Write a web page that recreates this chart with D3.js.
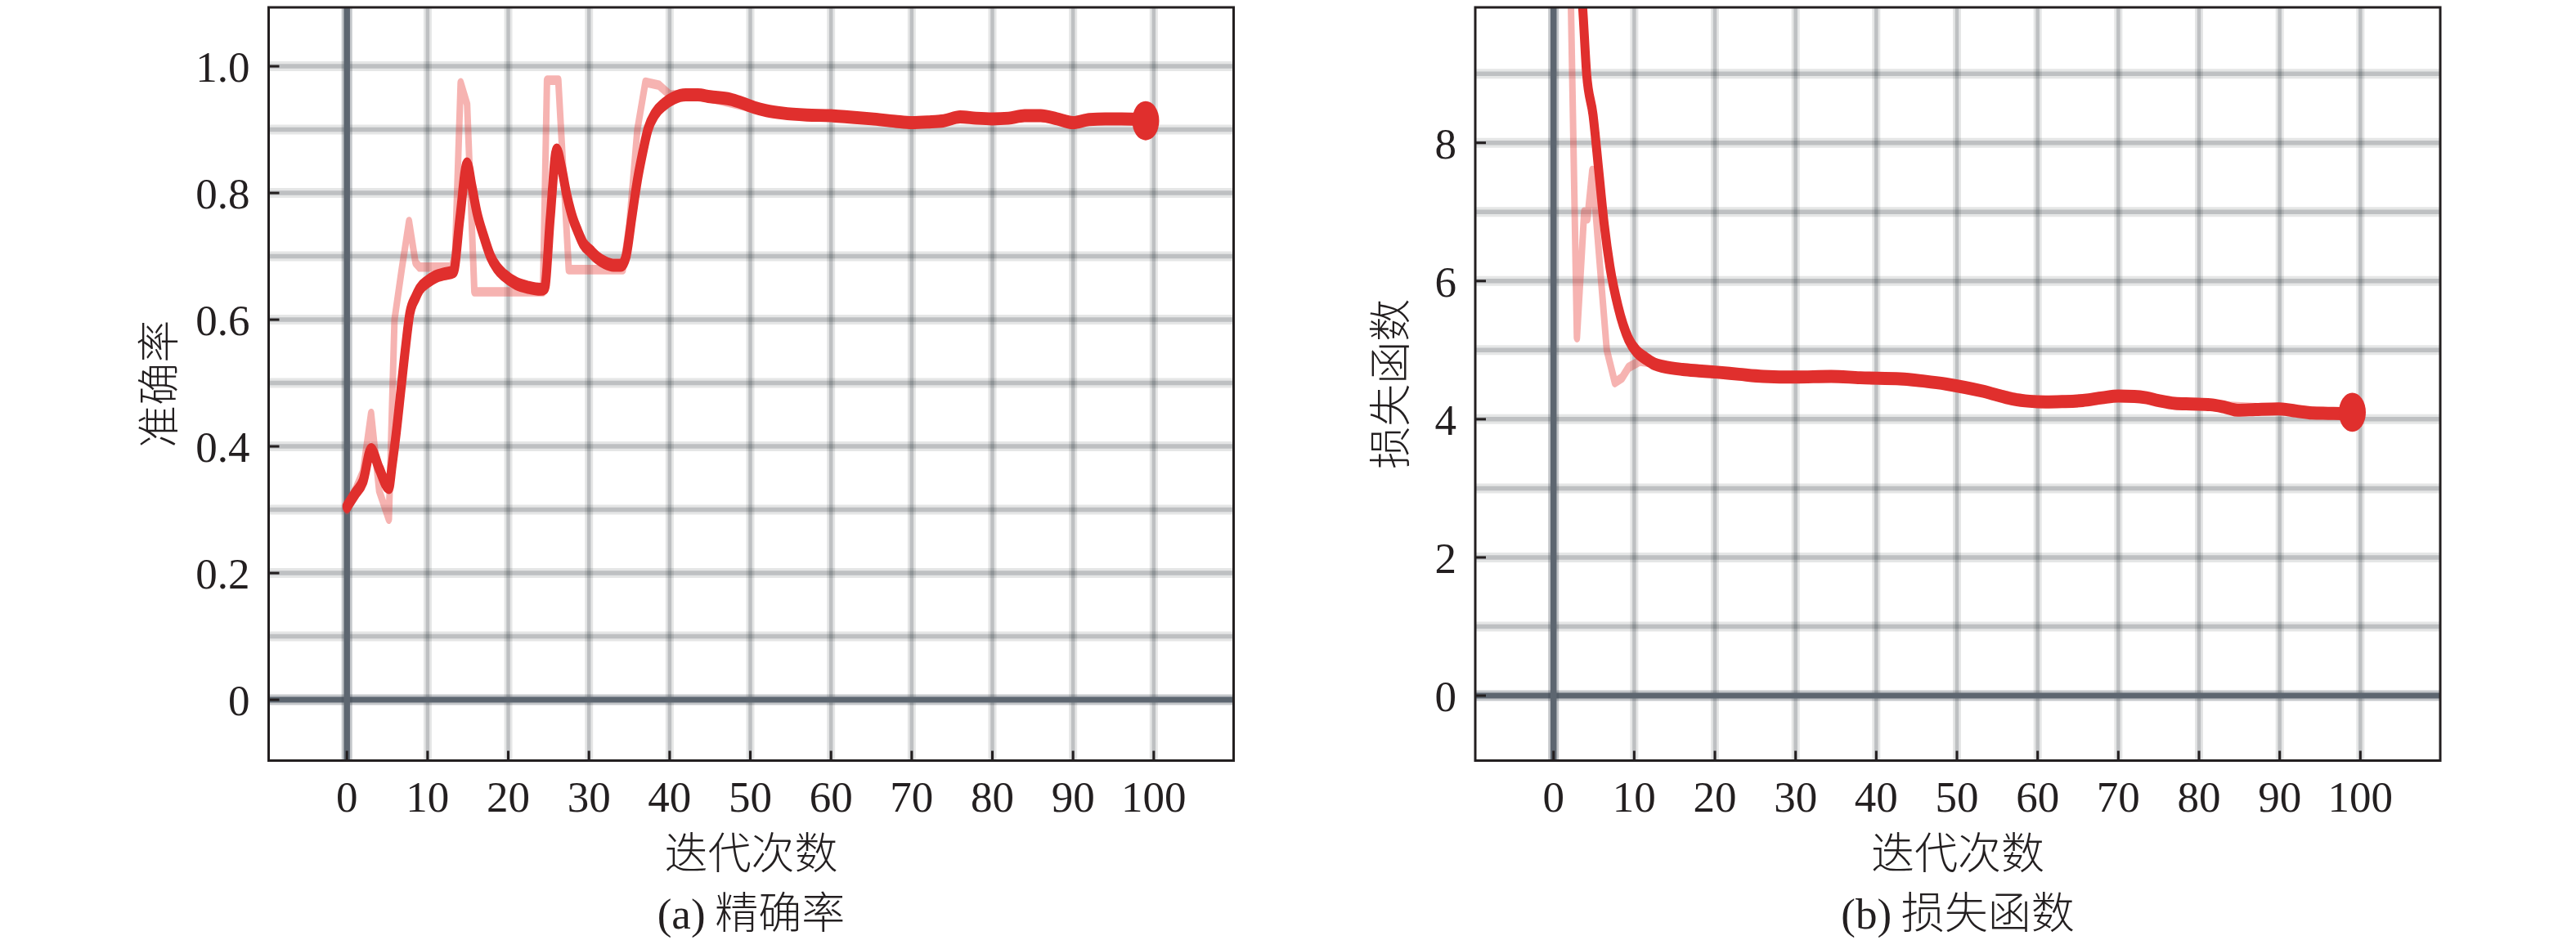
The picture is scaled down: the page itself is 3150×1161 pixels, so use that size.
<!DOCTYPE html>
<html>
<head>
<meta charset="utf-8">
<script src="https://cdn.jsdelivr.net/npm/d3@7"></script>
<style>
  html, body { margin: 0; padding: 0; background: #fff; }
  svg { display: block; }
</style>
</head>
<body>
<svg id="chart" width="3150" height="1161"></svg>
<script>
// ---------------- data ----------------
const iterTicks = [0, 10, 20, 30, 40, 50, 60, 70, 80, 90, 100];
const accTicks = [0, 0.2, 0.4, 0.6, 0.8, 1.0];
const accGridVals = [0.1, 0.2, 0.3, 0.4, 0.5, 0.6, 0.7, 0.8, 0.9, 1.0];
const lossTicks = [0, 2, 4, 6, 8];
const lossGridVals = [1, 2, 3, 4, 5, 6, 7, 8, 9];

// accuracy – smoothed curve
const accSmoothIter = [0, 1, 2, 3, 4, 5.2, 5.6, 6.1, 6.7, 7.3, 7.8, 8.5, 9, 10, 11, 12, 13.2,
  14, 14.9, 15.5, 16.1, 17, 17.8, 18.6, 19.5, 21, 22.5, 24, 24.5, 25.2, 26, 26.6, 27.2, 28, 28.6,
  29.3, 30.2, 31, 32, 33, 34, 34.6, 35.3, 36, 36.6, 37.3, 38.2, 39.3, 40.5, 42, 43.5, 45, 47.5,
  49, 50.5, 52, 54, 57, 60, 62, 65, 68, 70, 72, 74, 76, 78, 80, 82, 84, 86, 88, 90, 92, 94, 96, 99];
const accSmooth = [0.305, 0.325, 0.345, 0.395, 0.365, 0.335, 0.37, 0.42, 0.49, 0.56, 0.61, 0.635, 0.648, 0.66, 0.668, 0.672, 0.676,
  0.76, 0.846, 0.81, 0.77, 0.73, 0.70, 0.682, 0.67, 0.657, 0.651, 0.648, 0.65, 0.76, 0.868, 0.84, 0.80, 0.76, 0.74,
  0.72, 0.708, 0.698, 0.69, 0.686, 0.686, 0.70, 0.76, 0.82, 0.86, 0.90, 0.925, 0.94, 0.95, 0.955, 0.955, 0.952, 0.948,
  0.942, 0.935, 0.93, 0.926, 0.923, 0.922, 0.92, 0.917, 0.913, 0.911, 0.912, 0.914, 0.92, 0.918, 0.917, 0.918, 0.922, 0.922, 0.917, 0.911, 0.916, 0.917, 0.917, 0.916];

// accuracy – raw curve
const accRawIter = [0, 1, 2, 3, 4, 5.2, 5.9, 6.8, 7.7, 8.5, 9, 13, 13.4, 14.1, 14.9, 15.8, 24.3, 24.8, 26.2, 27.5,
  34.2, 35, 36, 37, 38.7, 40, 42, 45, 50, 55, 60, 65, 70, 75, 80, 85, 90, 95, 99];
const accRaw = [0.30, 0.33, 0.36, 0.452, 0.33, 0.285, 0.60, 0.68, 0.755, 0.69, 0.683, 0.683, 0.70, 0.974, 0.94, 0.644, 0.644, 0.978, 0.978, 0.679,
  0.679, 0.75, 0.90, 0.975, 0.97, 0.955, 0.955, 0.95, 0.935, 0.924, 0.922, 0.917, 0.911, 0.918, 0.917, 0.922, 0.911, 0.917, 0.916];
const accLast = { iter: 99, value: 0.914 };

// loss – smoothed curve
const lossSmoothIter = [0, 2, 3, 3.6, 4.1, 4.9, 5.6, 6.3, 7, 8, 9.3, 10.3, 11.4, 12.5, 13.7, 16, 18, 20.3, 23, 26, 30,
  34.4, 38, 43, 46, 48.6, 51, 53, 55, 57, 59, 61, 63, 65.6, 68, 70, 72, 73.5, 75, 77, 79, 81.4, 83, 84.8, 87, 89.9,
  92, 94, 96, 98.4, 99];
const lossSmooth = [15, 12, 10.6, 9.97, 9.0, 8.4, 7.6, 6.8, 6.2, 5.63, 5.16, 4.98, 4.88, 4.8, 4.76, 4.72, 4.70, 4.68, 4.65, 4.62, 4.61,
  4.62, 4.60, 4.585, 4.55, 4.51, 4.46, 4.41, 4.35, 4.29, 4.26, 4.25, 4.255, 4.27, 4.31, 4.335, 4.33, 4.31, 4.27, 4.23, 4.22, 4.21, 4.18, 4.13, 4.14, 4.15,
  4.12, 4.09, 4.085, 4.08, 4.08];

// loss – raw curve
const lossRawIter = [0, 2, 2.9, 3.8, 4.2, 4.8, 5.9, 6.6, 7.6, 8.5, 9.3, 10.7, 12, 14, 16, 20, 30, 40, 50, 60, 70, 80, 90, 99];
const lossRaw = [16, 11, 5.18, 7.0, 6.9, 7.6, 6.0, 5.0, 4.53, 4.6, 4.75, 4.84, 4.82, 4.76, 4.72, 4.68, 4.61, 4.59, 4.49, 4.25, 4.335, 4.21, 4.15, 4.08];
const lossLast = { iter: 99, value: 4.10 };

// ---------------- drawing ----------------
const svg = d3.select("#chart");
const STRETCH = 1.45;            // vertical stretch of the data strokes (as in the reference)
const INK = "#231f20";

const panels = [
  { x0: 328.5, x1: 1508.5, y0: 9, y1: 930.5, xDomain: [-9.7, 109.9], yDomain: [-0.096, 1.093],
    ticks: accTicks, grid: accGridVals, fmt: d => d === 0 ? "0" : d.toFixed(1),
    yTitle: "准确率", caption: ["(a)", " 精确率"],
    smoothX: accSmoothIter, smoothY: accSmooth, rawX: accRawIter, rawY: accRaw, last: accLast, id: "a" },
  { x0: 1804, x1: 2984, y0: 9, y1: 930.5, xDomain: [-9.7, 109.9], yDomain: [-0.94, 9.96],
    ticks: lossTicks, grid: lossGridVals, fmt: d => String(d),
    yTitle: "损失函数", caption: ["(b)", " 损失函数"],
    smoothX: lossSmoothIter, smoothY: lossSmooth, rawX: lossRawIter, rawY: lossRaw, last: lossLast, id: "b" }
];

const defs = svg.append("defs");

panels.forEach(p => {
  const w = p.x1 - p.x0, h = p.y1 - p.y0;
  const x = d3.scaleLinear().domain(p.xDomain).range([0, w]);
  const y = d3.scaleLinear().domain(p.yDomain).range([h, 0]);
  const g = svg.append("g").attr("transform", `translate(${p.x0},${p.y0})`);

  // grid lines
  const grid = g.append("g");
  const hGrid = grid.selectAll(".hg").data(p.grid).enter().append("g");
  hGrid.append("line").attr("x1", 0).attr("x2", w).attr("y1", d => y(d)).attr("y2", d => y(d))
    .attr("stroke", "rgba(20,25,30,0.11)").attr("stroke-width", 12);
  hGrid.append("line").attr("x1", 0).attr("x2", w).attr("y1", d => y(d)).attr("y2", d => y(d))
    .attr("stroke", "rgba(20,30,40,0.19)").attr("stroke-width", 5.5);
  const vGrid = grid.selectAll(".vg").data(iterTicks.filter(d => d !== 0)).enter().append("g");
  vGrid.append("line").attr("y1", 0).attr("y2", h).attr("x1", d => x(d)).attr("x2", d => x(d))
    .attr("stroke", "rgba(20,25,30,0.11)").attr("stroke-width", 10);
  vGrid.append("line").attr("y1", 0).attr("y2", h).attr("x1", d => x(d)).attr("x2", d => x(d))
    .attr("stroke", "rgba(20,30,40,0.19)").attr("stroke-width", 4.5);

  // zero axes (dark)
  grid.append("line").attr("x1", 0).attr("x2", w).attr("y1", y(0)).attr("y2", y(0))
    .attr("stroke", "rgba(60,70,80,0.3)").attr("stroke-width", 13);
  grid.append("line").attr("x1", 0).attr("x2", w).attr("y1", y(0)).attr("y2", y(0))
    .attr("stroke", "#5d6670").attr("stroke-width", 7);
  grid.append("line").attr("y1", 0).attr("y2", h).attr("x1", x(0)).attr("x2", x(0))
    .attr("stroke", "rgba(60,70,80,0.3)").attr("stroke-width", 13);
  grid.append("line").attr("y1", 0).attr("y2", h).attr("x1", x(0)).attr("x2", x(0))
    .attr("stroke", "#5d6670").attr("stroke-width", 7.5);

  // data layer, vertically stretched
  const hs = h / STRETCH;
  const ys = d3.scaleLinear().domain(p.yDomain).range([hs, 0]);
  const clipId = "clip-" + p.id;
  defs.append("clipPath").attr("id", clipId).append("rect")
    .attr("x", 0).attr("y", 0).attr("width", w).attr("height", hs);
  const dg = g.append("g").attr("transform", `scale(1,${STRETCH})`);
  const clipped = dg.append("g").attr("clip-path", `url(#${clipId})`);

  const line = d3.line().x(d => x(d[0])).y(d => ys(d[1])).curve(d3.curveLinear);
  const smoothLine = d3.line().x(d => x(d[0])).y(d => ys(d[1])).curve(d3.curveMonotoneX);

  clipped.append("path").datum(d3.zip(p.rawX, p.rawY)).attr("d", line)
    .attr("fill", "none").attr("stroke", "#e8403c").attr("stroke-opacity", 0.4)
    .attr("stroke-width", 8).attr("stroke-linejoin", "round").attr("stroke-linecap", "round");
  clipped.append("path").datum(d3.zip(p.smoothX, p.smoothY)).attr("d", smoothLine)
    .attr("fill", "none").attr("stroke", "#e02f2d")
    .attr("stroke-width", 11).attr("stroke-linejoin", "round").attr("stroke-linecap", "round");
  clipped.append("circle").attr("cx", x(p.last.iter)).attr("cy", ys(p.last.value))
    .attr("r", 16.5).attr("fill", "#e02f2d");

  // frame
  g.append("rect").attr("x", 0).attr("y", 0).attr("width", w).attr("height", h)
    .attr("fill", "none").attr("stroke", INK).attr("stroke-width", 3);

  // x ticks (inward) + labels
  g.selectAll(".xt").data(iterTicks).enter().append("line")
    .attr("x1", d => x(d)).attr("x2", d => x(d)).attr("y1", h).attr("y2", h - 12)
    .attr("stroke", INK).attr("stroke-width", 3);
  g.selectAll(".xl").data(iterTicks).enter().append("text")
    .attr("x", d => x(d)).attr("y", h + 62)
    .attr("text-anchor", "middle")
    .style("font-family", "'Liberation Serif', 'Times New Roman', serif")
    .style("font-size", "53px").attr("fill", INK)
    .text(d => d);

  // y ticks (inward) + labels
  g.selectAll(".yt").data(p.ticks).enter().append("line")
    .attr("x1", 0).attr("x2", 13).attr("y1", d => y(d)).attr("y2", d => y(d))
    .attr("stroke", INK).attr("stroke-width", 3);
  g.selectAll(".yl").data(p.ticks).enter().append("text")
    .attr("x", -23).attr("y", d => y(d) + 19)
    .attr("text-anchor", "end")
    .style("font-family", "'Liberation Serif', 'Times New Roman', serif")
    .style("font-size", "53px").attr("fill", INK)
    .text(p.fmt);

  // y title
  g.append("text")
    .attr("transform", `translate(${p.id === "a" ? -138 : -108},${h / 2}) rotate(-90)`)
    .attr("text-anchor", "middle").attr("dominant-baseline", "central")
    .style("font-family", "'Noto Sans CJK SC', sans-serif").style("font-weight", 300)
    .style("font-size", "52px").attr("fill", INK)
    .text(p.yTitle);

  // x title
  g.append("text").attr("x", w / 2).attr("y", h + 132)
    .attr("text-anchor", "middle")
    .style("font-family", "'Noto Sans CJK SC', sans-serif").style("font-weight", 300)
    .style("font-size", "53px").attr("fill", INK)
    .text("迭代次数");

  // caption
  const cap = g.append("text").attr("x", w / 2).attr("y", h + 205)
    .attr("text-anchor", "middle").style("font-size", "53px").attr("fill", INK);
  cap.append("tspan").style("font-family", "'Liberation Serif', 'Times New Roman', serif").text(p.caption[0]);
  cap.append("tspan").style("font-family", "'Noto Sans CJK SC', sans-serif").style("font-weight", 300).text(p.caption[1]);
});
</script>
</body>
</html>
